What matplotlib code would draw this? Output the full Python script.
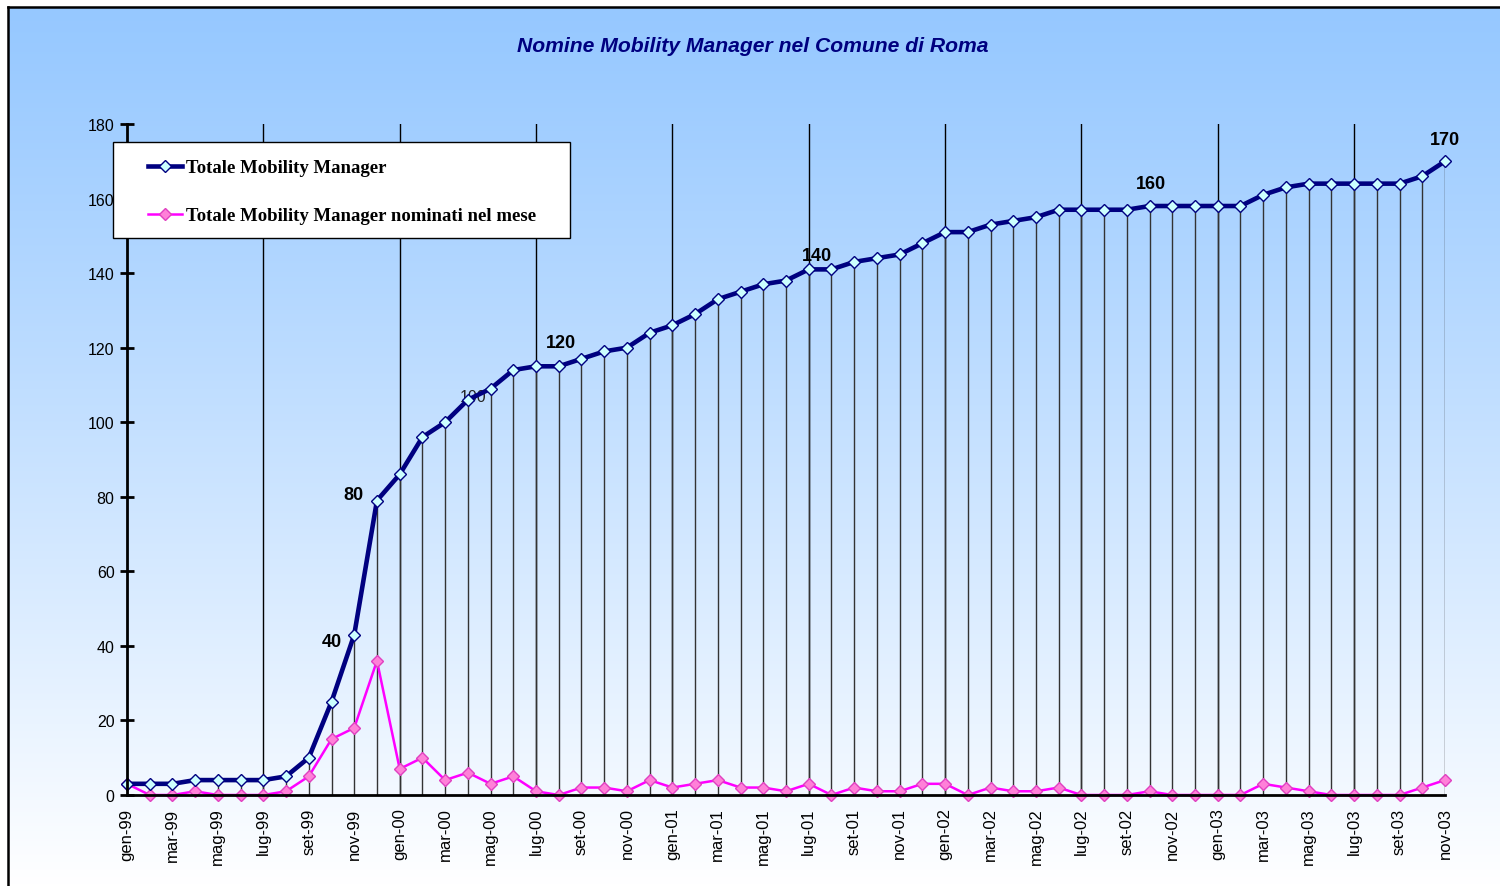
import numpy as np
import matplotlib
matplotlib.use("Agg")
import matplotlib.pyplot as plt
from matplotlib.patches import Rectangle

# ---------------- data ----------------
month_names = ['gen', 'feb', 'mar', 'apr', 'mag', 'giu',
               'lug', 'ago', 'set', 'ott', 'nov', 'dic']
years = ['99', '00', '01', '02', '03']
categories = [f"{m}-{y}" for y in years for m in month_names][:59]  # gen-99 .. nov-03

totale = [3, 3, 3, 4, 4, 4, 4, 5, 10, 25, 43, 79,
          86, 96, 100, 106, 109, 114, 115, 115, 117, 119, 120, 124,
          126, 129, 133, 135, 137, 138, 141, 141, 143, 144, 145, 148,
          151, 151, 153, 154, 155, 157, 157, 157, 157, 158, 158, 158,
          158, 158, 161, 163, 164, 164, 164, 164, 164, 166, 170]

nominati = [3, 0, 0, 1, 0, 0, 0, 1, 5, 15, 18, 36,
            7, 10, 4, 6, 3, 5, 1, 0, 2, 2, 1, 4,
            2, 3, 4, 2, 2, 1, 3, 0, 2, 1, 1, 3,
            3, 0, 2, 1, 1, 2, 0, 0, 0, 1, 0, 0,
            0, 0, 3, 2, 1, 0, 0, 0, 0, 2, 4]

series_names = ['Totale Mobility Manager', 'Totale Mobility Manager nominati nel mese']
title = 'Nomine Mobility Manager nel Comune di Roma'

# milestone labels on the total series: (text, month index)
milestone_text = ['40', '80', '100', '120', '140', '160', '170']
milestone_idx = [10, 11, 15, 19, 30, 45, 58]

yticks = list(range(0, 181, 20))

# ---------------- figure ----------------
W, H = 1500, 887
fig = plt.figure(figsize=(W / 100, H / 100), dpi=100)
fig.patch.set_facecolor('white')

# background gradient
bg = fig.add_axes([0, 0, 1, 1], zorder=0)
bg.set_xlim(0, 1)
bg.set_ylim(0, 1)
bg.axis('off')
top_c = np.array([150, 200, 255]) / 255.0
bot_c = np.array([255, 255, 255]) / 255.0
n = 256
t = np.linspace(0, 1, n) ** 1.1
grad = (top_c[None, :] * (1 - t[:, None]) + bot_c[None, :] * t[:, None])
grad = np.clip(grad, 0, 1)[:, None, :]
bg.imshow(grad, aspect='auto', extent=[8 / W, 1, 0, 1 - 8 / H], origin='upper',
          interpolation='bilinear')
bg.plot([8 / W, 8 / W], [0, 1 - 8 / H], color='black', lw=1.8)
bg.plot([8 / W, 1], [1 - 8 / H, 1 - 8 / H], color='black', lw=1.8)

fig.text(753 / W, 1 - 46 / H, title, ha='center', va='center',
         fontsize=15.2, fontweight='bold', style='italic', color='#000080',
         family='Liberation Sans')

# main axes
x0, x1 = 127, 1445
y0, y1 = 796, 125
ax = fig.add_axes([x0 / W, 1 - y0 / H, (x1 - x0) / W, (y0 - y1) / H], zorder=1)
ax.patch.set_alpha(0)

x = np.arange(len(categories))
ax.set_xlim(0, len(categories) - 1)
ax.set_ylim(0, 180)

# 6-month gridlines and drop lines
for i in range(6, len(categories), 6):
    ax.axvline(i, color='black', lw=1.0, zorder=1)
ax.vlines(x, 0, totale, color='#333333', lw=1.0, zorder=1)

# milestone labels
offsets = [(-22, -7), (-24, 6), (5, 3), (2, 24), (8, 14), (1, 23), (0, 22)]
for txt, idx, off in zip(milestone_text, milestone_idx, offsets):
    if txt == '100':
        ax.annotate(txt, xy=(idx, totale[idx]), xytext=off, textcoords='offset pixels',
                    ha='center', va='center', fontsize=11.5, color='#222222',
                    family='Liberation Sans', zorder=2)
    else:
        ax.annotate(txt, xy=(idx, totale[idx]), xytext=off, textcoords='offset pixels',
                    ha='center', va='center', fontsize=13, fontweight='bold',
                    color='black', family='Liberation Sans', zorder=6)

l1, = ax.plot(x, totale, color='#000080', lw=3.3, marker='D', markersize=6.5,
              markerfacecolor='#CCFFFF', markeredgecolor='#000080', markeredgewidth=1,
              clip_on=False, zorder=4, label=series_names[0])
l2, = ax.plot(x, nominati, color='#FF00FF', lw=1.8, marker='D', markersize=6.5,
              markerfacecolor='#FF80D8', markeredgecolor='#E040C0', markeredgewidth=1,
              clip_on=False, zorder=3, label=series_names[1])

# axes styling
for s in ['top', 'right']:
    ax.spines[s].set_visible(False)
ax.spines['left'].set_linewidth(2)
ax.spines['bottom'].set_linewidth(2)
ax.spines['left'].set_zorder(5)
ax.spines['bottom'].set_zorder(5)

ax.set_yticks(yticks)
ax.tick_params(axis='y', direction='inout', length=10, width=2, pad=4,
               labelsize=11.5, labelfontfamily='Liberation Sans')
ax.set_xticks(x[::2])
ax.set_xticklabels(categories[::2], rotation=90, family='Liberation Sans', fontsize=12)
ax.tick_params(axis='x', length=0, pad=9)
ax.set_xticks(np.arange(0, len(categories), 6), minor=True)
ax.tick_params(axis='x', which='minor', direction='out', length=6, width=2)

# legend box
bx0, bx1, by0, by1 = 113, 570, 143, 239
rect = Rectangle(((bx0 - x0) / (x1 - x0), (y0 - by1) / (y0 - y1)),
                 (bx1 - bx0) / (x1 - x0), (by1 - by0) / (y0 - y1),
                 transform=ax.transAxes, facecolor='white', edgecolor='black',
                 lw=1.0, clip_on=False, zorder=7)
ax.add_patch(rect)
leg = ax.legend(handles=[l1, l2], loc='upper left',
                bbox_to_anchor=((148 - x0) / (x1 - x0), (y0 - 160) / (y0 - y1)),
                frameon=False, borderpad=0, borderaxespad=0,
                handlelength=1.8, handletextpad=0.2, labelspacing=1.65,
                numpoints=1, prop={'family': 'Liberation Serif', 'weight': 'bold', 'size': 13.5})
leg.set_zorder(8)

fig.savefig('out.png', dpi=100)
